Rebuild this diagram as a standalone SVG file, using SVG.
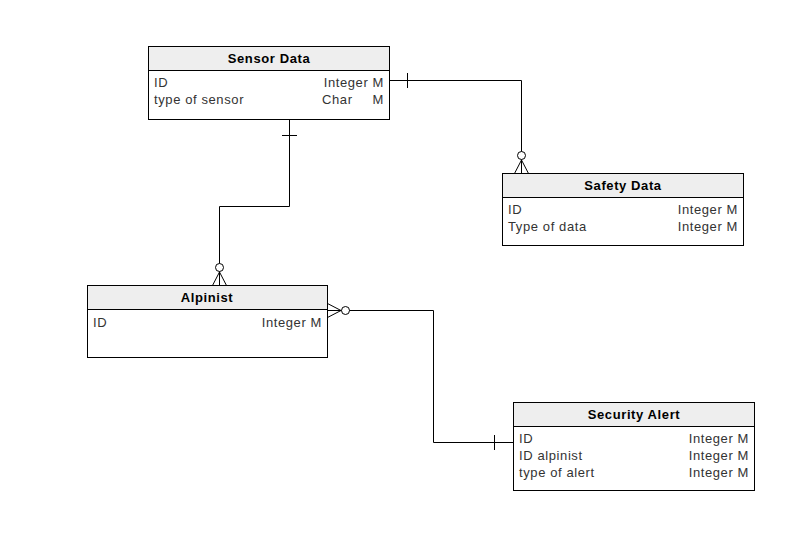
<svg xmlns="http://www.w3.org/2000/svg" width="798" height="540" viewBox="0 0 798 540">
<style>
.box{fill:#fff;stroke:#000;stroke-width:1}
.hdr{fill:#eeeeee;stroke:#000;stroke-width:1}
.t{font-family:"Liberation Sans",Arial,sans-serif;font-size:13px;letter-spacing:0.6px;fill:#333}
.h{font-family:"Liberation Sans",Arial,sans-serif;font-size:13px;letter-spacing:0.6px;font-weight:bold;fill:#000;text-anchor:middle}
.r{text-anchor:end}
.c{fill:none;stroke:#000;stroke-width:1}
.o{fill:#fff;stroke:#000;stroke-width:1}
</style>
<rect width="798" height="540" fill="#fff"/>
<g id="sensor-data">
<rect class="box" x="148.5" y="46.5" width="241" height="73"/>
<rect class="hdr" x="148.5" y="46.5" width="241" height="24"/>
<text class="h" x="269" y="63">Sensor Data</text>
<text class="t" x="154" y="87">ID</text>
<text class="t r" x="384" y="87">Integer M</text>
<text class="t" x="154" y="104">type of sensor</text>
<text class="t" x="322" y="104">Char</text>
<text class="t r" x="384" y="104">M</text>
</g>
<g id="safety-data">
<rect class="box" x="502.5" y="173.5" width="241" height="72"/>
<rect class="hdr" x="502.5" y="173.5" width="241" height="24"/>
<text class="h" x="623" y="190">Safety Data</text>
<text class="t" x="508" y="213.5">ID</text>
<text class="t r" x="738" y="213.5">Integer M</text>
<text class="t" x="508" y="231">Type of data</text>
<text class="t r" x="738" y="231">Integer M</text>
</g>
<g id="alpinist">
<rect class="box" x="87.5" y="285.5" width="240" height="72"/>
<rect class="hdr" x="87.5" y="285.5" width="240" height="24"/>
<text class="h" x="207" y="302">Alpinist</text>
<text class="t" x="93" y="326.5">ID</text>
<text class="t r" x="322" y="326.5">Integer M</text>
</g>
<g id="security-alert">
<rect class="box" x="513.5" y="402.5" width="241" height="88"/>
<rect class="hdr" x="513.5" y="402.5" width="241" height="24"/>
<text class="h" x="634" y="419">Security Alert</text>
<text class="t" x="519" y="443">ID</text>
<text class="t r" x="749" y="443">Integer M</text>
<text class="t" x="519" y="460">ID alpinist</text>
<text class="t r" x="749" y="460">Integer M</text>
<text class="t" x="519" y="477">type of alert</text>
<text class="t r" x="749" y="477">Integer M</text>
</g>
<g id="connectors">
<path class="c" d="M389.5 80.5 H521.5 V173.5"/>
<path class="c" d="M407.5 73 V88"/>
<path class="c" d="M521.5 160 L514.5 173.5 M521.5 160 L528.5 173.5"/>
<circle class="o" cx="521.5" cy="155.5" r="4"/>
<path class="c" d="M289.5 119.5 V206.5 H219.5 V285.5"/>
<path class="c" d="M282 135.5 H297"/>
<path class="c" d="M219.5 272 L212.5 285.5 M219.5 272 L226.5 285.5"/>
<circle class="o" cx="219.5" cy="267.5" r="4"/>
<path class="c" d="M327.5 310.5 H433.5 V442.5 H513.5"/>
<path class="c" d="M494.5 435 V450"/>
<path class="c" d="M341 310.5 L327.5 303.5 M341 310.5 L327.5 317.5"/>
<circle class="o" cx="345.5" cy="310.5" r="4"/>
</g>
</svg>
